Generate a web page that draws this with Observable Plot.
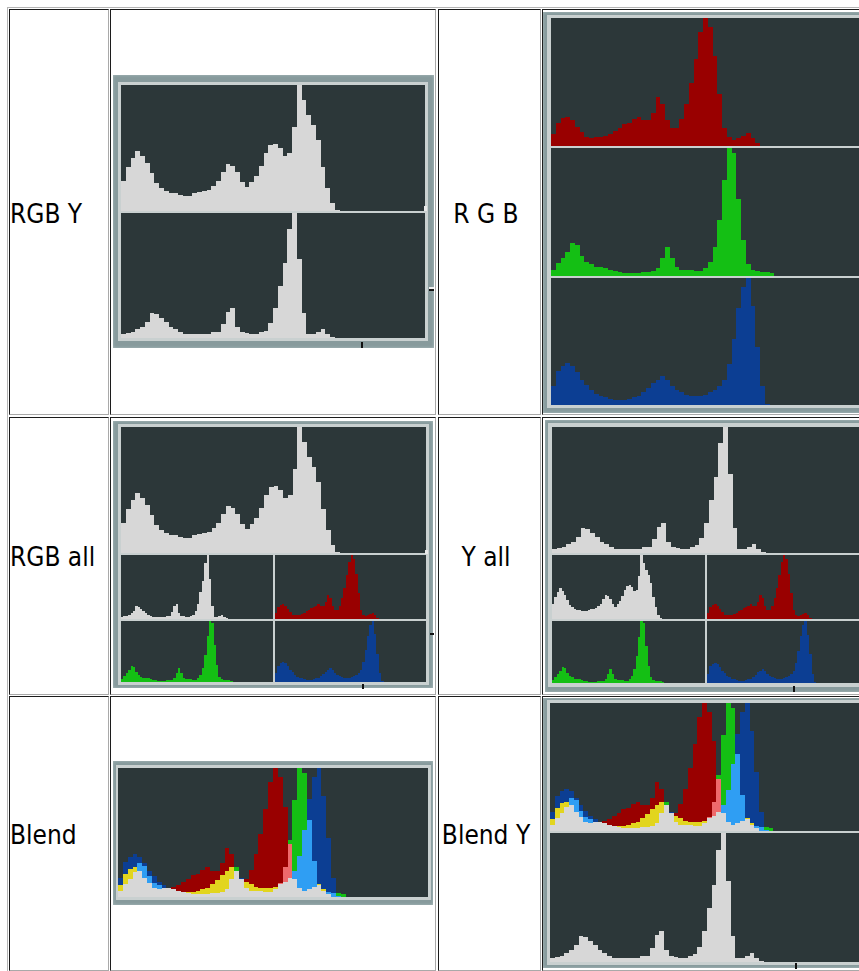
<!DOCTYPE html>
<html>
<head>
<meta charset="utf-8">
<script src="https://cdn.jsdelivr.net/npm/d3@7"></script>
<script src="https://cdn.jsdelivr.net/npm/@observablehq/plot@0.6"></script>
<style>
html, body { margin: 0; padding: 0; background: #fff; }
#page { position: relative; width: 859px; height: 971px; overflow: hidden; background: #fff; }
.abs { position: absolute; box-sizing: border-box; }
.cell { border-top: 1px solid #1c1c1c; border-left: 1px solid #1c1c1c; border-right: 1px solid #a9a9a9; border-bottom: 1px solid #a9a9a9; }
.label { font-family: "DejaVu Sans Condensed", "DejaVu Sans", sans-serif; font-stretch: semi-condensed; font-size: 26px; line-height: 30px; height: 30px; color: #000; white-space: nowrap; }
.panel svg { display: block; }
</style>
</head>
<body>
<div id="page"></div>
<script>
// ---------------- data (histogram levels per bin, 64 bins, % of panel height) ----------------
const rowLabels = ["RGB Y", "R G B", "RGB all", "Y all", "Blend", "Blend Y"];

// combined RGB (white) histogram
const rgbLevels = [24,35,42,48,44,38,30,22,18,16,14,14,13,12,12,14,15,16,17,20,24,31,37,36,31,23,19,23,28,36,46,52,53,50,44,46,67,100,88,76,68,56,35,18,6,1];
// luma (Y) histogram
const lumaLevels = [3,4,5,7,9,13,20,19,16,13,9,7,5,3,3,3,3,3,3,5,5,11,21,24,9,5,4,3,3,5,6,12,24,42,60,87,100,63,20,3,3,5,7,3,1];
// red channel
const redLevels = [9,18,22,23,20,15,11,7,6,7,7,8,9,12,14,17,18,21,23,20,20,26,38,33,20,14,14,21,33,49,68,89,100,93,70,41,14,7,5,6,8,10,6,2];
// green channel
const greenLevels = [5,10,14,19,26,24,16,11,9,7,7,6,5,4,3,2,2,2,2,3,3,4,6,14,23,14,7,5,5,5,4,4,6,11,23,44,75,100,96,60,28,9,5,4,3,3,2];
// blue channel
const blueLevels = [15,27,31,33,31,26,20,16,12,9,7,6,5,4,4,4,5,6,7,10,13,17,20,23,20,15,12,10,8,7,7,7,8,10,12,15,20,32,52,76,93,100,78,46,15,1];

const BIN_COUNT = 64;
const BG = "#2c3739";
const FRAME = "#879a9c";
const LIGHT = "#c9d0d0";
const WHITE = "#d7d7d7";
const RED = "#990000";
const GREEN = "#14bf14";
const BLUE = "#0c3e93";
const blendKeys = ["RGB", "RG", "RB", "GB", "R", "G", "B"];
const blendColors = ["#d7d7d7", "#ee6a6c", "#e2d51e", "#2f9ef3", "#990000", "#14bf14", "#0c3e93"];

// ---------------- helpers ----------------
const page = document.getElementById("page");
function box(x, y, w, h, css, cls) {
  const d = document.createElement("div");
  d.className = "abs " + (cls || "");
  Object.assign(d.style, {left: x + "px", top: y + "px", width: w + "px", height: h + "px"}, css || {});
  page.appendChild(d);
  return d;
}

function histPlot(levels, fill, w, h, dataW) {
  return Plot.plot({
    width: w, height: h, margin: 0,
    x: {domain: [0, BIN_COUNT], range: [0, dataW || w], axis: null},
    y: {domain: [0, 100], range: [h, 0], axis: null},
    style: {background: BG, display: "block"},
    marks: [
      Plot.rect(levels, {x1: (d, i) => i, x2: (d, i) => i + 1, y1: 0, y2: d => d, fill, shapeRendering: "crispEdges"})
    ]
  });
}

function blendSegments(r, g, b) {
  const order = "RGB";
  const out = [];
  for (let i = 0; i < BIN_COUNT; i++) {
    const v = [["R", r[i] ?? 0], ["G", g[i] ?? 0], ["B", b[i] ?? 0]].sort((a, c) => a[1] - c[1]);
    const pair = [v[1][0], v[2][0]].sort((a, c) => order.indexOf(a) - order.indexOf(c)).join("");
    out.push({i, y1: 0, y2: v[0][1], k: "RGB"});
    out.push({i, y1: v[0][1], y2: v[1][1], k: pair});
    out.push({i, y1: v[1][1], y2: v[2][1], k: v[2][0]});
  }
  return out.filter(d => d.y2 > d.y1);
}

function blendPlot(w, h, dataW) {
  return Plot.plot({
    width: w, height: h, margin: 0,
    x: {domain: [0, BIN_COUNT], range: [0, dataW || w], axis: null},
    y: {domain: [0, 100], range: [h, 0], axis: null, clamp: true},
    color: {domain: blendKeys, range: blendColors},
    style: {background: BG, display: "block"},
    marks: [
      Plot.rect(blendSegments(redLevels, greenLevels, blueLevels), {x1: "i", x2: d => d.i + 1, y1: "y1", y2: "y2", fill: "k", shapeRendering: "crispEdges"})
    ]
  });
}

function panel(x, y, w, h, svg) {
  const d = box(x, y, w, h, {background: BG, overflow: "hidden"}, "panel");
  d.appendChild(svg);
}

function picture(outer, light) {
  box(outer[0], outer[1], outer[2], outer[3], {background: FRAME, boxShadow: "inset 0 0 3px rgba(200,215,215,0.6)"});
  box(light[0], light[1], light[2], light[3], {background: LIGHT});
}

// ---------------- table ----------------
box(7, 7, 900, 1000, {borderTop: "1px solid #b4b4b4", borderLeft: "1px solid #b4b4b4"});
const colX = [[9, 100], [110, 326], [438, 103], [542, 330]];
const rowY = [[9, 406], [417, 278], [696, 275]];
rowY.forEach(([ry, rh]) => colX.forEach(([cx, cw]) => box(cx, ry, cw, rh, {}, "cell")));

// labels
function label(text, x, y, w, align) {
  const d = box(x, y, w, 30, {textAlign: align}, "label");
  d.textContent = text;
}
label(rowLabels[0], 10, 198.5, 98, "left");
label(rowLabels[1], 436, 198.5, 100, "center");
label(rowLabels[2], 10, 541.5, 98, "left");
label(rowLabels[3], 436, 541.5, 100, "center");
label(rowLabels[4], 10, 820, 98, "left");
label(rowLabels[5], 436, 820, 100, "center");

// ---------------- pictures ----------------
// RGB Y
picture([113, 75, 321, 273], [118, 82, 310, 259]);
panel(121, 85, 304, 126, histPlot(rgbLevels, WHITE, 304, 126));
panel(121, 213, 304, 125, histPlot(lumaLevels, WHITE, 304, 125));

// R G B
picture([543, 12, 330, 401], [547, 15, 330, 393]);
panel(551, 18, 308, 128, histPlot(redLevels, RED, 308, 128, 304));
panel(551, 148, 308, 128, histPlot(greenLevels, GREEN, 308, 128, 304));
panel(551, 278, 308, 127, histPlot(blueLevels, BLUE, 308, 127, 304));

// RGB all
picture([113, 421, 320, 267], [118, 424, 311, 261]);
panel(121, 427, 305, 126, histPlot(rgbLevels, WHITE, 305, 126));
panel(121, 555, 152, 64, histPlot(lumaLevels, WHITE, 152, 64));
panel(275, 555, 151, 64, histPlot(redLevels, RED, 151, 64));
panel(121, 621, 152, 61, histPlot(greenLevels, GREEN, 152, 61));
panel(275, 621, 151, 61, histPlot(blueLevels, BLUE, 151, 61));

// Y all
picture([545, 420, 330, 272], [548, 423, 330, 264]);
panel(552, 427, 307, 126, histPlot(lumaLevels, WHITE, 307, 126, 304));
panel(552, 555, 153, 64, histPlot(rgbLevels, WHITE, 153, 64));
panel(707, 555, 152, 64, histPlot(redLevels, RED, 152, 64));
panel(552, 621, 153, 62, histPlot(greenLevels, GREEN, 153, 62));
panel(707, 621, 152, 62, histPlot(blueLevels, BLUE, 152, 62));

// Blend
picture([113, 761, 320, 144], [116, 765, 315, 135]);
panel(118, 768, 310, 129, blendPlot(310, 129));

// Blend Y
picture([543, 698, 330, 270], [547, 700, 330, 265]);
panel(550, 703, 309, 128, blendPlot(309, 128, 304));
panel(550, 833, 309, 129, histPlot(lumaLevels, WHITE, 309, 129, 304));

// small cursor marks visible on the captured frames
[[424, 206, 3, 5, "#e8e8e8"], [429, 287, 5, 2, "#f0f0f0"], [429, 289, 5, 2, "#111"], [361, 342, 2, 6, "#111"],
 [425, 550, 3, 4, "#e8e8e8"], [430, 633, 4, 2, "#111"], [362, 684, 2, 5, "#111"],
 [793, 686, 2, 6, "#111"], [795, 963, 2, 6, "#111"]].forEach(([x, y, w, h, c]) => box(x, y, w, h, {background: c}));
</script>
</body>
</html>
